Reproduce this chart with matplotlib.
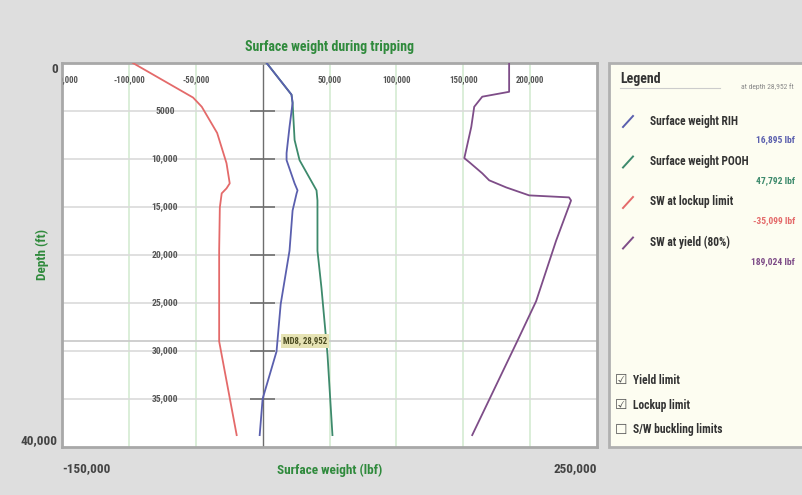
import numpy as np
import matplotlib
matplotlib.use("Agg")
import matplotlib.pyplot as plt
from matplotlib import font_manager
from matplotlib.patches import Rectangle

# pick a narrow-ish font if there is one
installed = {f.name for f in font_manager.fontManager.ttflist}
font = "DejaVu Sans"
for name in ["Liberation Sans Narrow", "Roboto Condensed", "Open Sans Condensed", "Roboto"]:
    if name in installed:
        font = name
        break
plt.rcParams["font.family"] = [font, "DejaVu Sans"]

# data (depth in ft, weight in lbf)
rih_depth = [0, 3300, 4150, 6660, 9390, 10120, 12540, 13270, 13580, 15370, 19560, 25120, 30050, 34980, 38760]
rih_weight = [3000, 21600, 22400, 20100, 17900, 17900, 23900, 26100, 25400, 22400, 20100, 13500, 10400, 0, -2200]

pooh_depth = [0, 3300, 4150, 8020, 10120, 13270, 14320, 19560, 23440, 30360, 38760]
pooh_weight = [3000, 21600, 22400, 23900, 27600, 40300, 41000, 41000, 44000, 48500, 52200]

lock_depth = [0, 3600, 4560, 7290, 10440, 12540, 13060, 13580, 15050, 19560, 29000, 38760]
lock_weight = [-97000, -52000, -45500, -34000, -27000, -24600, -27000, -30600, -32000, -32500, -32500, -19400]

yield_depth = [0, 3000, 3510, 4560, 6660, 9910, 10330, 11490, 12220, 12960, 13790, 14000, 14320, 18520, 24810, 29000, 38760]
yield_weight = [184300, 184300, 164200, 158200, 156000, 150800, 154500, 164200, 169400, 182100, 199300, 229100, 230600, 219400, 204500, 190300, 156700]

top_ticks = [-150000, -100000, -50000, 50000, 100000, 150000, 200000]
depth_ticks = [5000, 10000, 15000, 20000, 25000, 30000, 35000]
cursor_depth = 28952

legend_names = ["Surface weight RIH", "Surface weight POOH", "SW at lockup limit", "SW at yield (80%)"]
legend_values = ["16,895 lbf", "47,792 lbf", "-35,099 lbf", "189,024 lbf"]
checks = [("\u2611", "Yield limit"), ("\u2611", "Lockup limit"), ("\u2610", "S/W buckling limits")]

c_rih = "#5a5fae"
c_pooh = "#3d8a6c"
c_lock = "#e46a6a"
c_yield = "#7e4d88"
green_txt = "#2f8a3c"
colors = [c_rih, c_pooh, c_lock, c_yield]

W, H = 803, 495
fig = plt.figure(figsize=(W / 100, H / 100), dpi=100, facecolor="#dedede")
ax = fig.add_axes([62 / W, (H - 447) / H, 535 / W, 384 / H])
ax.set_facecolor("white")
ax.set_xlim(-150000, 250000)
ax.set_ylim(40000, 0)

# grid
for x in top_ticks[1:]:
    ax.axvline(x, color="#d4ebd2", lw=1.2, zorder=0)
for d in depth_ticks:
    ax.axhline(d, color="#dadada", lw=1.2, zorder=0)
ax.axhline(cursor_depth, color="#cbcbcb", lw=1.3, zorder=1)
ax.axvline(0, color="#6e6e6e", lw=1.0, zorder=1)
ax.hlines(depth_ticks, -9500, 9500, color="#6e6e6e", lw=1.2, zorder=1)

# curves
ax.plot(lock_weight, lock_depth, color=c_lock, lw=1.3, zorder=3)
ax.plot(pooh_weight, pooh_depth, color=c_pooh, lw=1.3, zorder=3)
ax.plot(rih_weight, rih_depth, color=c_rih, lw=1.3, zorder=4)
ax.plot(yield_weight, yield_depth, color=c_yield, lw=1.3, zorder=3)

# labels inside the plot
for x in top_ticks:
    ax.text(x, 1750, f"{x:,}", ha="center", va="center", fontsize=6.3,
            color="#555555", fontweight="bold", clip_on=True)
for d in depth_ticks:
    lab = "5000" if d == 5000 else f"{d:,}"
    ax.text(-73000, d, lab, ha="center", va="center", fontsize=6.8,
            color="#555555", fontweight="bold")
ax.text(15000, cursor_depth, "MD8, 28,952", ha="left", va="center", fontsize=6.3,
        color="#4a4a20", fontweight="bold",
        bbox=dict(boxstyle="square,pad=0.25", fc="#e6e3b4", ec="none"), zorder=5)

# outer ticks
ax.set_xticks([-150000, 250000])
ax.set_xticklabels(["-150,000", "250,000"], fontsize=9.5, color="#444444", fontweight="bold")
xl = ax.get_xticklabels()
xl[0].set_ha("left")
xl[1].set_ha("right")
ax.set_yticks([0, 40000])
ax.set_yticklabels(["0", "40,000"], fontsize=9.5, color="#444444", fontweight="bold")
yl = ax.get_yticklabels()
yl[0].set_va("top")
yl[1].set_va("bottom")
ax.tick_params(axis="x", length=0, pad=11)
ax.tick_params(axis="y", length=0, pad=3)
for s in ax.spines.values():
    s.set_color("#a8a8a8")
    s.set_linewidth(2)

ax.set_title("Surface weight during tripping", fontsize=10, color=green_txt,
             fontweight="bold", pad=9)
ax.set_xlabel("Surface weight (lbf)", fontsize=9.5, color=green_txt, fontweight="bold", labelpad=-8)
ax.set_ylabel("Depth (ft)", fontsize=9.5, color=green_txt, fontweight="bold", labelpad=-20)

# legend panel
lg = fig.add_axes([609 / W, (H - 447) / H, 200 / W, 384 / H])
lg.set_xlim(609, 809)
lg.set_ylim(447, 63)
lg.axis("off")
lg.add_patch(Rectangle((609, 63), 200, 384, fc="#fdfdf1", ec="#b0b0b0", lw=2, clip_on=False))
lg.text(620, 79, "Legend", fontsize=10, color="#333333", fontweight="bold", va="center")
lg.plot([620, 720], [88, 88], color="#cccccc", lw=0.8)
lg.text(794, 87, "at depth 28,952 ft", fontsize=5.5, color="#8a8a8a", ha="right", va="center")
for i, (name, val, c) in enumerate(zip(legend_names, legend_values, colors)):
    y = 121 + i * 40.5
    lg.plot([623, 633], [y + 6, y - 5], color=c, lw=1.4)
    lg.text(650, y, name, fontsize=8.3, color="#333333", fontweight="bold", va="center")
    lg.text(795, y + 19, val, fontsize=6.8, color=c, fontweight="bold", ha="right", va="center")
for i, (box, name) in enumerate(checks):
    y = 380 + i * 25
    lg.text(615, y, box, fontsize=10, color="#555555", va="center", family="DejaVu Sans")
    lg.text(633, y, name, fontsize=8.3, color="#333333", fontweight="bold", va="center")

fig.savefig("out.png", dpi=100, facecolor=fig.get_facecolor())
